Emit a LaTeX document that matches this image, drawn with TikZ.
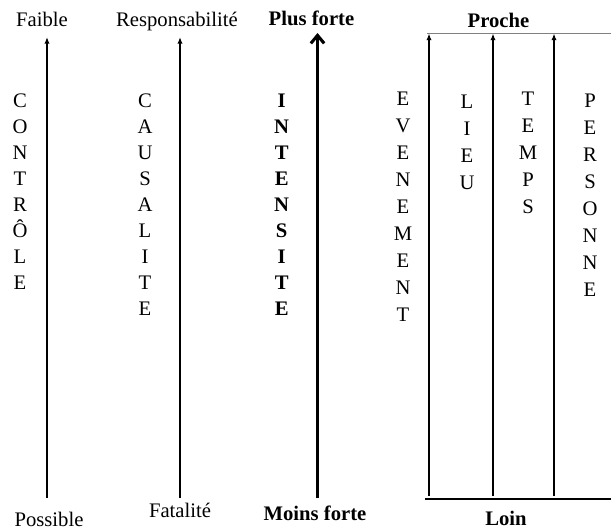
\documentclass[tikz,border=0pt]{standalone}
\usepackage{fontspec}
\setmainfont{Liberation Serif}
\usetikzlibrary{arrows.meta}

\tikzset{
  pole/.style={inner sep=0pt, anchor=base, font=\fontsize{15.5}{19}\selectfont},
  polegras/.style={pole, font=\fontsize{15.5}{19}\selectfont\bfseries},
  colonne/.style={align=center, inner sep=0pt, anchor=north, font=\fontsize{15.5}{#1}\selectfont},
  fleche/.style={line width=1pt, -{Latex[length=5pt,width=4pt]}},
  grossefleche/.style={line width=2.3pt, -{Straight Barb[length=6pt,width=10pt]}}
}

\begin{document}
\begin{tikzpicture}[x=0.75pt,y=-0.75pt]
\useasboundingbox (0,0) rectangle (611,529);

% controle
\node[pole] (faible) at (42,26) {Faible};
\node[pole] (possible) at (49,526) {Possible};
\coordinate (ctrlbas) at (47,498);
\coordinate (ctrlhaut) at (47,37);
\draw[fleche] (ctrlbas) -- (ctrlhaut);
\node[colonne=19.5pt] (controle) at (20,94) {C\\O\\N\\T\\R\\Ô\\L\\E};

% causalite
\node[pole] (respons) at (177,26) {Responsabilité};
\node[pole] (fatalite) at (180,517.5) {Fatalité};
\coordinate (causbas) at (180,498);
\coordinate (caushaut) at (180,37);
\draw[fleche] (causbas) -- (caushaut);
\node[colonne=19.5pt] (causalite) at (145,94) {C\\A\\U\\S\\A\\L\\I\\T\\E};

% intensite
\node[polegras] (plusforte) at (311.5,25) {Plus forte};
\node[polegras] (moinsforte) at (315,520) {Moins forte};
\coordinate (intbas) at (317.5,498);
\coordinate (inthaut) at (317.5,33);
\draw[grossefleche] (intbas) -- (inthaut);
\node[colonne=19.5pt, font=\fontsize{15.5}{19.5}\selectfont\bfseries] (intensite) at (281.7,94) {I\\N\\T\\E\\N\\S\\I\\T\\E};

% distance
\node[polegras] (proche) at (498.5,27) {Proche};
\node[polegras] (loin) at (506,525) {Loin};
\coordinate (hautg) at (427,33.5);
\coordinate (hautd) at (611,33.5);
\coordinate (basg) at (425,499);
\coordinate (basd) at (611,499);
\draw[line width=1.1pt, gray] (hautg) -- (hautd);
\draw[line width=1.1pt] (basg) -- (basd);
\foreach \x/\nom in {429/a, 493/b, 554/c} {
  \coordinate (\nom bas) at (\x,496);
  \coordinate (\nom haut) at (\x,33.5);
  \draw[fleche, line width=1.2pt] (\nom bas) -- (\nom haut);
}
\node[colonne=20.3pt] (evenement) at (403,91.5) {E\\V\\E\\N\\E\\M\\E\\N\\T};
\node[colonne=20.3pt] (lieu) at (467,94.5) {L\\I\\E\\U};
\node[colonne=20.3pt] (temps) at (528,91.5) {T\\E\\M\\P\\S};
\node[colonne=20.3pt] (personne) at (590,93.5) {P\\E\\R\\S\\O\\N\\N\\E};
\end{tikzpicture}
\end{document}
